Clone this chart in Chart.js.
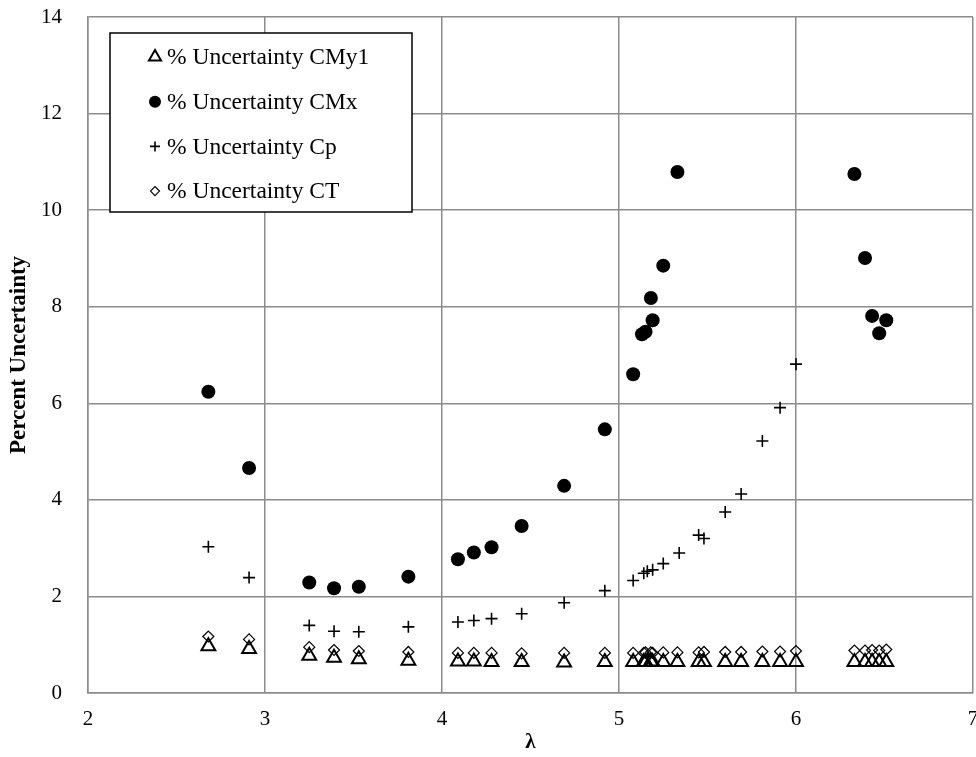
<!DOCTYPE html>
<html>
<head>
<meta charset="utf-8">
<script src="https://cdn.jsdelivr.net/npm/chart.js@4.4.1/dist/chart.umd.min.js"></script>
<style>
  html, body { margin: 0; padding: 0; background: #fff; }
  #chart { display: block; }
</style>
</head>
<body>
<canvas id="chart" width="976" height="757"></canvas>
<script>
// lambda values shared by CMy1 and CT
const lambdaAll = [2.68, 2.91, 3.25, 3.39, 3.53, 3.81, 4.09, 4.18, 4.28, 4.45, 4.69, 4.92, 5.08, 5.14, 5.15,
    5.18, 5.19, 5.25, 5.33, 5.45, 5.48, 5.60, 5.69, 5.81, 5.91, 6.00, 6.33, 6.39, 6.43, 6.47, 6.51];
const uncCMy1 = [0.97, 0.91, 0.77, 0.73, 0.70, 0.67, 0.65, 0.65, 0.64, 0.64, 0.63, 0.64, 0.64, 0.64, 0.64,
    0.65, 0.64, 0.64, 0.64, 0.64, 0.64, 0.64, 0.64, 0.64, 0.64, 0.64, 0.64, 0.64, 0.64, 0.64, 0.64];
const uncCT = [1.17, 1.11, 0.95, 0.89, 0.87, 0.85, 0.83, 0.83, 0.83, 0.82, 0.83, 0.83, 0.83, 0.83, 0.84,
    0.84, 0.83, 0.84, 0.84, 0.84, 0.85, 0.85, 0.85, 0.86, 0.86, 0.87, 0.88, 0.88, 0.89, 0.88, 0.90];

const lambdaCMx = [2.68, 2.91, 3.25, 3.39, 3.53, 3.81, 4.09, 4.18, 4.28, 4.45, 4.69, 4.92, 5.08, 5.13, 5.15,
    5.19, 5.18, 5.25, 5.33, 6.33, 6.39, 6.43, 6.47, 6.51];
const uncCMx = [6.24, 4.66, 2.29, 2.17, 2.20, 2.41, 2.77, 2.91, 3.02, 3.46, 4.29, 5.46, 6.60, 7.43, 7.48,
    7.72, 8.18, 8.85, 10.79, 10.75, 9.01, 7.81, 7.45, 7.72];

const lambdaCp = [2.68, 2.91, 3.25, 3.39, 3.53, 3.81, 4.09, 4.18, 4.28, 4.45, 4.69, 4.92, 5.08, 5.14, 5.16,
    5.19, 5.25, 5.34, 5.45, 5.48, 5.60, 5.69, 5.81, 5.91, 6.00];
const uncCp = [3.03, 2.39, 1.40, 1.28, 1.27, 1.37, 1.47, 1.50, 1.54, 1.64, 1.87, 2.12, 2.33, 2.48, 2.52,
    2.55, 2.68, 2.90, 3.27, 3.20, 3.75, 4.12, 5.22, 5.91, 6.81];

const xTicks = [2, 3, 4, 5, 6, 7];
const yTicks = [0, 2, 4, 6, 8, 10, 12, 14];

function pairs(xs, ys) {
    return xs.map((x, i) => ({ x: x, y: ys[i] }));
}

const serif = "'Liberation Serif', 'Times New Roman', serif";
const gridColor = '#8c8c8c';

// legend drawn inside the plot, like the original
const boxLegend = {
    id: 'boxLegend',
    afterDraw(chart) {
        const ctx = chart.ctx;
        const area = chart.chartArea;
        const left = area.left + 22;
        const top = area.top + 16;
        const w = 302, h = 179;
        ctx.save();
        ctx.fillStyle = '#fff';
        ctx.fillRect(left, top, w, h);
        ctx.strokeStyle = '#000';
        ctx.lineWidth = 1.5;
        ctx.strokeRect(left, top, w, h);
        ctx.font = '23.5px ' + serif;
        ctx.textBaseline = 'middle';
        ctx.textAlign = 'left';
        chart.data.datasets.forEach((ds, i) => {
            const y = top + 24 + i * 44.7;
            ctx.save();
            ctx.strokeStyle = '#000';
            ctx.fillStyle = ds.backgroundColor;
            ctx.lineWidth = ds.legendBorder;
            Chart.helpers.drawPoint(ctx, {
                pointStyle: ds.pointStyle,
                radius: ds.legendRadius,
                rotation: 0,
                borderWidth: ds.legendBorder
            }, left + 45, y);
            ctx.restore();
            ctx.fillStyle = '#000';
            ctx.fillText(ds.label, left + 57, y + 1);
        });
        ctx.restore();
    }
};

new Chart(document.getElementById('chart'), {
    type: 'scatter',
    data: {
        datasets: [
            {
                label: '% Uncertainty CMy1',
                data: pairs(lambdaAll, uncCMy1),
                pointStyle: 'triangle',
                pointRadius: 8,
                borderWidth: 2,
                borderColor: '#000',
                backgroundColor: 'rgba(0,0,0,0)',
                legendRadius: 7,
                legendBorder: 2
            },
            {
                label: '% Uncertainty CMx',
                data: pairs(lambdaCMx, uncCMx),
                pointStyle: 'circle',
                pointRadius: 7,
                borderWidth: 0,
                borderColor: '#000',
                backgroundColor: '#000',
                legendRadius: 6,
                legendBorder: 0
            },
            {
                label: '% Uncertainty Cp',
                data: pairs(lambdaCp, uncCp),
                pointStyle: 'cross',
                pointRadius: 6,
                borderWidth: 1.6,
                borderColor: '#000',
                backgroundColor: '#000',
                legendRadius: 5,
                legendBorder: 1.6
            },
            {
                label: '% Uncertainty CT',
                data: pairs(lambdaAll, uncCT),
                pointStyle: 'rectRot',
                pointRadius: 5.5,
                borderWidth: 1.2,
                borderColor: '#000',
                backgroundColor: 'rgba(0,0,0,0)',
                legendRadius: 4.5,
                legendBorder: 1.2
            }
        ]
    },
    options: {
        responsive: false,
        animation: false,
        layout: { autoPadding: false, padding: { left: 0, right: 3, top: 17, bottom: 0 } },
        plugins: {
            legend: { display: false },
            tooltip: { enabled: false }
        },
        scales: {
            x: {
                type: 'linear',
                min: 2,
                max: 7,
                afterBuildTicks: (scale) => { scale.ticks = xTicks.map(v => ({ value: v })); },
                afterFit: (scale) => { scale.height = 64; scale.paddingLeft = 0; scale.paddingRight = 0; },
                grid: { color: gridColor, lineWidth: 1.5, drawTicks: false },
                border: { color: gridColor, width: 1.5 },
                ticks: { color: '#000', font: { family: serif, size: 21 }, padding: 14, maxRotation: 0 },
                title: {
                    display: true,
                    text: 'λ',
                    color: '#000',
                    font: { family: serif, size: 21, weight: 'bold' },
                    padding: { top: 0, bottom: 2 }
                }
            },
            y: {
                type: 'linear',
                min: 0,
                max: 14,
                afterBuildTicks: (scale) => { scale.ticks = yTicks.map(v => ({ value: v })); },
                afterFit: (scale) => { scale.width = 88; scale.paddingTop = 0; scale.paddingBottom = 0; },
                grid: { color: gridColor, lineWidth: 1.5, drawTicks: false },
                border: { color: gridColor, width: 1.5 },
                ticks: { color: '#000', font: { family: serif, size: 21 }, padding: 26 },
                title: {
                    display: true,
                    text: 'Percent Uncertainty',
                    color: '#000',
                    font: { family: serif, size: 23, weight: 'bold' },
                    padding: { top: 5, bottom: 0 }
                }
            }
        }
    },
    plugins: [boxLegend]
});
</script>
</body>
</html>
